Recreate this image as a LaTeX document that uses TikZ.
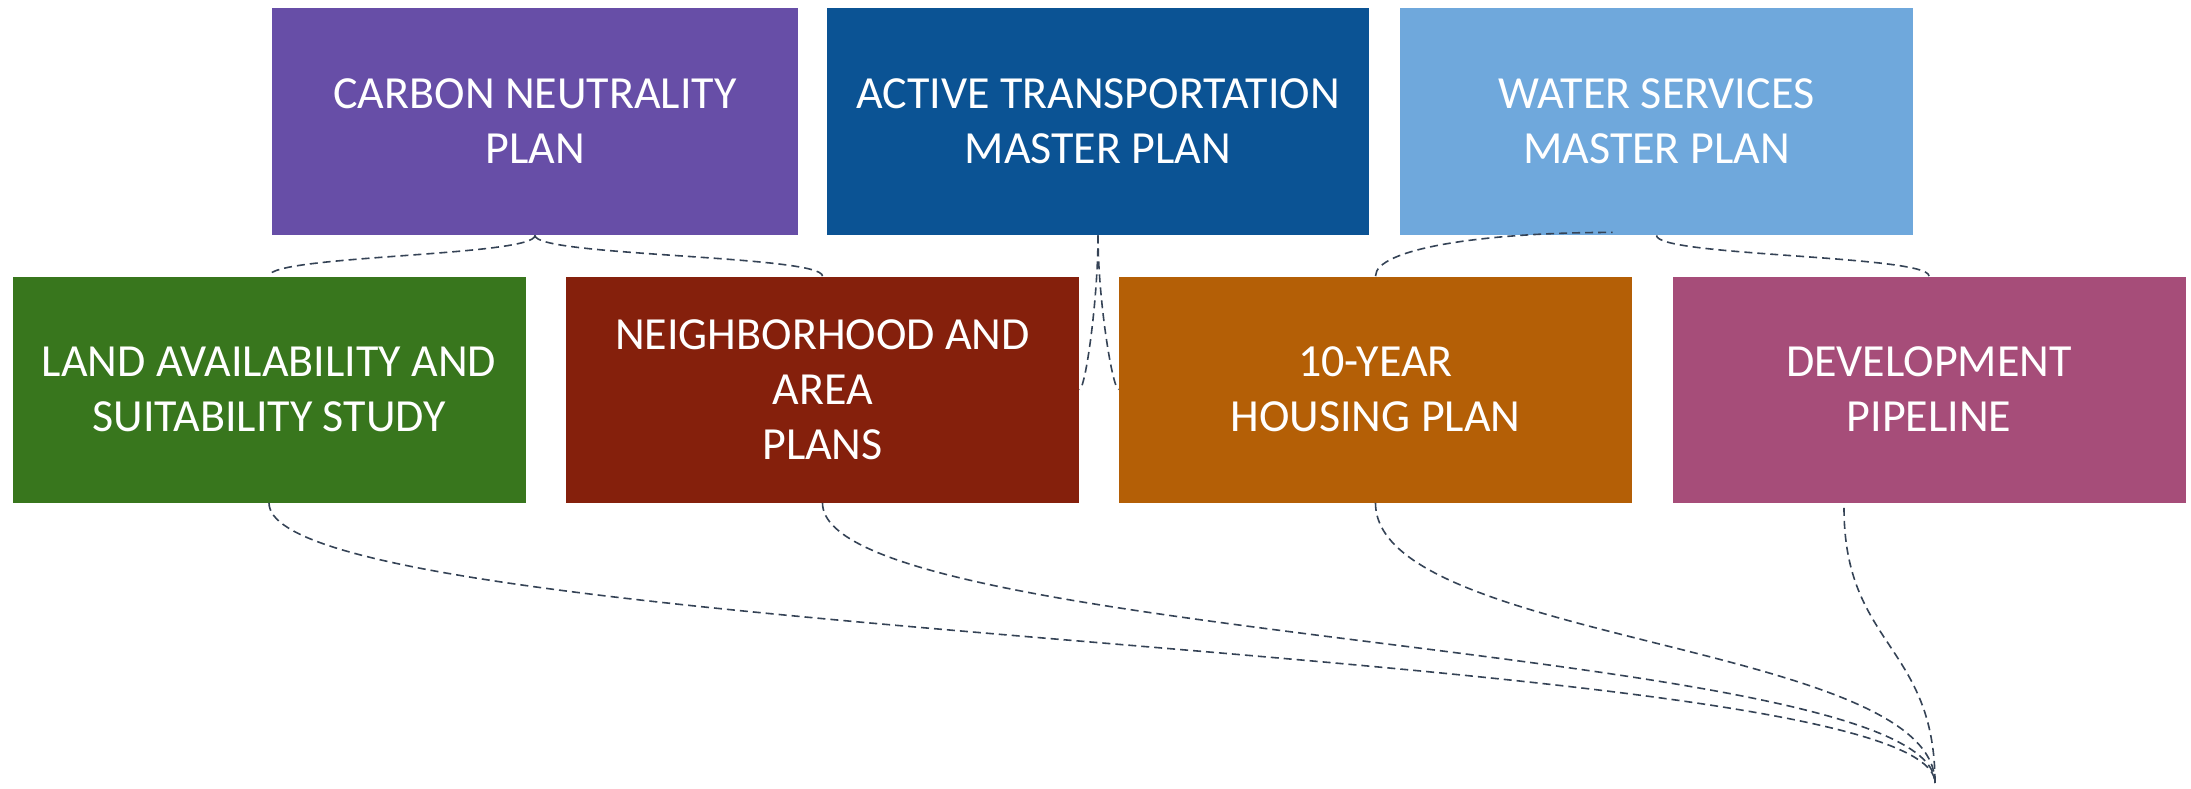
\documentclass[tikz,border=0pt]{standalone}
\usepackage{fontspec}
\setmainfont{Carlito}
\usetikzlibrary{calc}
\definecolor{carbonpurple}{HTML}{674EA7}
\definecolor{activeblue}{HTML}{0B5394}
\definecolor{waterblue}{HTML}{6FA8DC}
\definecolor{landgreen}{HTML}{38761D}
\definecolor{hoodred}{HTML}{85200C}
\definecolor{housingorange}{HTML}{B45F06}
\definecolor{pipelinepink}{HTML}{A64D79}
\definecolor{linkgray}{HTML}{354356}
\tikzset{
	plan/.style={rectangle, inner sep=0pt, align=center, text=white, minimum height=113pt, minimum width=256.5pt, font=\fontsize{23pt}{27.5pt}\selectfont},
	link/.style={draw=linkgray, line width=0.8pt, dash pattern=on 4pt off 2.5pt}
}

\begin{document}
\begin{tikzpicture}[x=0.5pt, y=-0.5pt]
		%%%%% START %%%%%
		
		\useasboundingbox (0, 0) rectangle (2191, 788);
		
		\node[plan, fill=carbonpurple, minimum width=263pt, minimum height=113.5pt] (carbon) at (535, 121.5) {CARBON NEUTRALITY\\PLAN};
		\node[plan, fill=activeblue, minimum width=271pt, minimum height=113.5pt] (active) at (1098, 121.5) {ACTIVE TRANSPORTATION\\MASTER PLAN};
		\node[plan, fill=waterblue, minimum height=113.5pt] (water) at (1656.5, 121.5) {WATER SERVICES\\MASTER PLAN};
		
		\node[plan, fill=landgreen] (land) at (269, 389.5) {LAND AVAILABILITY AND\\SUITABILITY STUDY};
		\node[plan, fill=hoodred] (hood) at (822.5, 389.5) {NEIGHBORHOOD AND\\AREA\\PLANS};
		\node[plan, fill=housingorange] (housing) at (1375.5, 389.5) {10-YEAR\\HOUSING PLAN};
		\node[plan, fill=pipelinepink] (pipeline) at (1929, 389.5) {DEVELOPMENT\\PIPELINE};
		
		\coordinate (waterin) at ($(water.south)+(-44, -3)$);
		\coordinate (pipeout) at ($(pipeline.south)+(-85, 5)$);
		\coordinate (sink) at (1935, 783);
		
		\draw[link] (carbon.south) .. controls +(0, 21) and +(0, -21) .. (land.north);
		\draw[link] (carbon.south) .. controls +(0, 21) and +(0, -21) .. (hood.north);
		
		\draw[link] (active.south) .. controls +(0, 65) and +(6, 0) .. (hood.east);
		\draw[link] (active.south) .. controls +(0, 65) and +(-6, 0) .. (housing.west);
		
		\draw[link] (housing.north) .. controls +(0, -27) and +(-132, 0) .. (waterin);
		\draw[link] (water.south) .. controls +(0, 21) and +(0, -21) .. (pipeline.north);
		
		\draw[link] (land.south) .. controls +(0, 140) and +(0, -140) .. (sink);
		\draw[link] (hood.south) .. controls +(0, 140) and +(0, -140) .. (sink);
		\draw[link] (housing.south) .. controls +(0, 140) and +(0, -140) .. (sink);
		\draw[link] (pipeout) .. controls +(0, 138) and +(0, -138) .. (sink);
		
		%%%%% END %%%%%
	\end{tikzpicture}
\end{document}
